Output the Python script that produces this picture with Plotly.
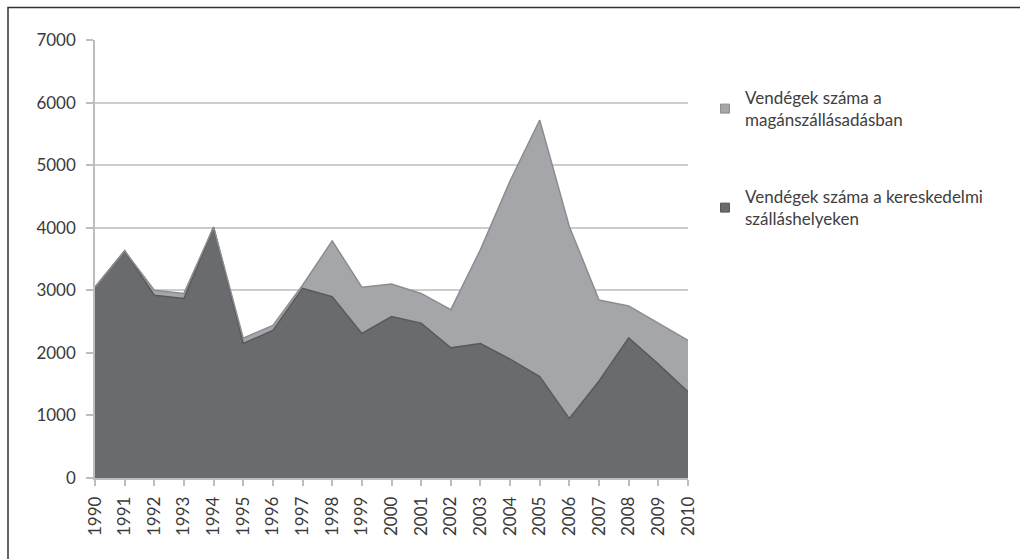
import plotly.graph_objects as go

years = list(range(1990, 2011))
kereskedelmi = [3050, 3630, 2920, 2870, 4010, 2150, 2360, 3030, 2900, 2310, 2580,
                2475, 2080, 2150, 1900, 1620, 950, 1550, 2240, 1820, 1380]
magan = [0, 0, 80, 80, 0, 85, 80, 50, 890, 740, 520,
         475, 610, 1500, 2850, 4100, 3065, 1295, 510, 655, 820]

name_k = "Vendégek száma a kereskedelmi<br>szálláshelyeken"
name_m = "Vendégek száma a<br>magánszállásadásban"

dark = "#6a6b6f"
light = "#a5a6a9"
FONT = "Lato"

fig = go.Figure()
fig.add_trace(go.Scatter(
    x=years, y=kereskedelmi, stackgroup="one", mode="lines",
    line=dict(color="#58595d", width=1.5), fillcolor=dark,
    name=name_k, showlegend=False, hoverinfo="x+y"))
fig.add_trace(go.Scatter(
    x=years, y=magan, stackgroup="one", mode="lines",
    line=dict(color="#8c8d91", width=1.5), fillcolor=light,
    name=name_m, showlegend=False, hoverinfo="x+y"))

# legend entries with square markers
fig.add_trace(go.Scatter(
    x=[None], y=[None], mode="markers", name=name_m,
    marker=dict(symbol="square", size=9, color=light, line=dict(color="#8c8d91", width=1)),
    legend="legend"))
fig.add_trace(go.Scatter(
    x=[None], y=[None], mode="markers", name=name_k,
    marker=dict(symbol="square", size=9, color=dark, line=dict(color="#58595d", width=1)),
    legend="legend2"))

L, R, T, B = 95, 332, 40, 81
W, H = 1020, 559
pw, ph = W - L - R, H - T - B

def px_x(p):
    return (p - L) / pw

def px_y(p):
    return (H - B - p) / ph

fig.update_layout(
    width=W, height=H,
    margin=dict(l=L, r=R, t=T, b=B, pad=0, autoexpand=False),
    paper_bgcolor="white", plot_bgcolor="white",
    font=dict(family=FONT, size=17, color="#3a3a3a"),
    legend=dict(x=px_x(705), y=px_y(80), xanchor="left", yanchor="top",
                font=dict(family=FONT, size=17, color="#404040"),
                bgcolor="rgba(0,0,0,0)", itemwidth=30),
    legend2=dict(x=px_x(705), y=px_y(179), xanchor="left", yanchor="top",
                 font=dict(family=FONT, size=17, color="#404040"),
                 bgcolor="rgba(0,0,0,0)", itemwidth=30),
    showlegend=True,
    xaxis=dict(
        range=[1990, 2010], tickmode="array", tickvals=years,
        ticktext=[str(y) for y in years], tickangle=-90,
        showgrid=False, showline=True, linecolor="#bdbdbd", linewidth=1.5,
        ticks="outside", ticklen=6, tickcolor="#bdbdbd", tickwidth=1.5,
        ticklabelstandoff=4,
        tickfont=dict(family=FONT, size=17, color="#3a3a3a"),
        zeroline=False, fixedrange=True, automargin=False),
    yaxis=dict(
        range=[0, 7000], dtick=1000, tick0=0,
        showgrid=True, gridcolor="#cccccc", gridwidth=1.5,
        showline=True, linecolor="#bdbdbd", linewidth=1.5,
        ticks="outside", ticklen=7, tickcolor="#bdbdbd", tickwidth=1.5,
        ticklabelstandoff=7,
        tickfont=dict(family=FONT, size=17, color="#3a3a3a"),
        zeroline=False, fixedrange=True, automargin=False),
    shapes=[dict(type="rect", xref="paper", yref="paper",
                 x0=px_x(8), x1=px_x(1030), y0=px_y(570), y1=px_y(7.5),
                 line=dict(color="#333333", width=1.5), layer="above")],
)

fig.write_html("out.html",
               config={"displayModeBar": False},
               post_script="document.body.style.margin='0';document.body.style.overflow='hidden';")
